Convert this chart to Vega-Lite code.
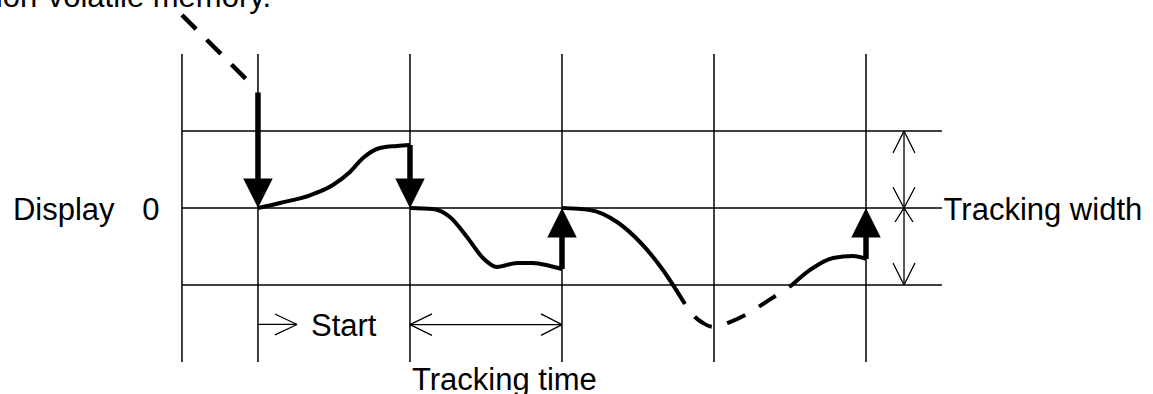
{
  "$schema": "https://vega.github.io/schema/vega-lite/v6.json",
  "width": 1153,
  "height": 394,
  "autosize": "none",
  "padding": 0,
  "background": "white",
  "config": {"view": {"stroke": null}, "font": "Liberation Sans"},
  "datasets": {
    "grid": [
      {"x": -0.5, "y": -2, "x2": -0.5, "y2": 2},
      {"x": 0, "y": -2, "x2": 0, "y2": 2},
      {"x": 1, "y": -2, "x2": 1, "y2": 2},
      {"x": 2, "y": -2, "x2": 2, "y2": 2},
      {"x": 3, "y": -2, "x2": 3, "y2": 2},
      {"x": 4, "y": -2, "x2": 4, "y2": 2},
      {"x": -0.5, "y": 1, "x2": 4.5, "y2": 1},
      {"x": -0.5, "y": 0, "x2": 4.5, "y2": 0},
      {"x": -0.5, "y": -1, "x2": 4.5, "y2": -1}
    ],
    "thin": [
      {"x": 4.25, "y": 1, "x2": 4.25, "y2": -1},
      {"x": 4.178, "y": 0.714, "x2": 4.25, "y2": 1},
      {"x": 4.322, "y": 0.714, "x2": 4.25, "y2": 1},
      {"x": 4.178, "y": 0.27, "x2": 4.25, "y2": 0},
      {"x": 4.322, "y": 0.27, "x2": 4.25, "y2": 0},
      {"x": 4.191, "y": -0.182, "x2": 4.25, "y2": 0},
      {"x": 4.309, "y": -0.182, "x2": 4.25, "y2": 0},
      {"x": 4.178, "y": -0.714, "x2": 4.25, "y2": -1},
      {"x": 4.322, "y": -0.714, "x2": 4.25, "y2": -1},
      {"x": 0, "y": -1.513, "x2": 0.257, "y2": -1.513},
      {"x": 0.112, "y": -1.377, "x2": 0.257, "y2": -1.513},
      {"x": 0.112, "y": -1.649, "x2": 0.257, "y2": -1.513},
      {"x": 1, "y": -1.515, "x2": 2, "y2": -1.515},
      {"x": 1.145, "y": -1.375, "x2": 1, "y2": -1.515},
      {"x": 1.145, "y": -1.655, "x2": 1, "y2": -1.515},
      {"x": 1.862, "y": -1.375, "x2": 2, "y2": -1.515},
      {"x": 1.862, "y": -1.655, "x2": 2, "y2": -1.515}
    ],
    "shafts": [
      {"x": 0, "y": 1.5, "x2": 0, "y2": 0.3},
      {"x": 1, "y": 0.818, "x2": 1, "y2": 0.3},
      {"x": 2, "y": -0.792, "x2": 2, "y2": -0.3},
      {"x": 4, "y": -0.662, "x2": 4, "y2": -0.3}
    ],
    "heads": [
      {"x": 0, "y": 0, "dir": "down"},
      {"x": 1, "y": 0, "dir": "down"},
      {"x": 2, "y": 0, "dir": "up"},
      {"x": 4, "y": 0, "dir": "up"}
    ],
    "curve": [
      {"series": "c1", "style": "solid", "x": 0, "y": 0},
      {"series": "c1", "style": "solid", "x": 0.145, "y": 0.065},
      {"series": "c1", "style": "solid", "x": 0.342, "y": 0.165},
      {"series": "c1", "style": "solid", "x": 0.493, "y": 0.299},
      {"series": "c1", "style": "solid", "x": 0.605, "y": 0.468},
      {"series": "c1", "style": "solid", "x": 0.691, "y": 0.649},
      {"series": "c1", "style": "solid", "x": 0.803, "y": 0.779},
      {"series": "c1", "style": "solid", "x": 0.914, "y": 0.805},
      {"series": "c1", "style": "solid", "x": 1.0, "y": 0.818},
      {"series": "c2", "style": "solid", "x": 1.0, "y": 0},
      {"series": "c2", "style": "solid", "x": 1.151, "y": -0.013},
      {"series": "c2", "style": "solid", "x": 1.263, "y": -0.117},
      {"series": "c2", "style": "solid", "x": 1.375, "y": -0.377},
      {"series": "c2", "style": "solid", "x": 1.48, "y": -0.649},
      {"series": "c2", "style": "solid", "x": 1.572, "y": -0.766},
      {"series": "c2", "style": "solid", "x": 1.704, "y": -0.714},
      {"series": "c2", "style": "solid", "x": 1.809, "y": -0.714},
      {"series": "c2", "style": "solid", "x": 1.921, "y": -0.753},
      {"series": "c2", "style": "solid", "x": 2.0, "y": -0.792},
      {"series": "c3", "style": "solid", "x": 2.0, "y": 0},
      {"series": "c3", "style": "solid", "x": 2.184, "y": -0.026},
      {"series": "c3", "style": "solid", "x": 2.362, "y": -0.182},
      {"series": "c3", "style": "solid", "x": 2.513, "y": -0.442},
      {"series": "c3", "style": "solid", "x": 2.664, "y": -0.805},
      {"series": "c3", "style": "solid", "x": 2.809, "y": -1.247},
      {"series": "c4", "style": "dashed", "x": 2.809, "y": -1.247},
      {"series": "c4", "style": "dashed", "x": 2.875, "y": -1.416},
      {"series": "c4", "style": "dashed", "x": 2.928, "y": -1.494},
      {"series": "c4", "style": "dashed", "x": 2.993, "y": -1.545},
      {"series": "c4", "style": "dashed", "x": 3.105, "y": -1.481},
      {"series": "c4", "style": "dashed", "x": 3.23, "y": -1.364},
      {"series": "c4", "style": "dashed", "x": 3.322, "y": -1.247},
      {"series": "c4", "style": "dashed", "x": 3.434, "y": -1.104},
      {"series": "c4", "style": "dashed", "x": 3.513, "y": -1.0},
      {"series": "c5", "style": "solid", "x": 3.513, "y": -1.0},
      {"series": "c5", "style": "solid", "x": 3.632, "y": -0.805},
      {"series": "c5", "style": "solid", "x": 3.783, "y": -0.649},
      {"series": "c5", "style": "solid", "x": 3.914, "y": -0.623},
      {"series": "c5", "style": "solid", "x": 4.0, "y": -0.662},
      {"series": "lead", "style": "lead", "x": -0.5, "y": 2.506},
      {"series": "lead", "style": "lead", "x": -0.059, "y": 1.636}
    ],
    "labels": [
      {"x": -1.612, "y": -0.156, "text": "Display", "align": "left"},
      {"x": -0.704, "y": -0.156, "text": "0", "align": "center"},
      {"x": 4.51, "y": -0.156, "text": "Tracking width", "align": "left"},
      {"x": 1.013, "y": -2.364, "text": "Tracking time", "align": "left"},
      {"x": 0.349, "y": -1.662, "text": "Start", "align": "left"},
      {"x": 0.086, "y": 2.61, "text": "non-volatile memory.", "align": "right"}
    ]
  },
  "layer": [
    {
      "data": {"name": "grid"},
      "mark": {"type": "rule", "color": "black", "strokeWidth": 1.5},
      "encoding": {
        "x": {"field": "x", "type": "quantitative", "scale": {"domain": [-1.697, 5.888], "zero": false, "nice": false}, "axis": null},
        "y": {"field": "y", "type": "quantitative", "scale": {"domain": [-2.416, 2.701], "zero": false, "nice": false}, "axis": null},
        "x2": {"field": "x2"},
        "y2": {"field": "y2"}
      }
    },
    {
      "data": {"name": "thin"},
      "mark": {"type": "rule", "color": "black", "strokeWidth": 1.3},
      "encoding": {
        "x": {"field": "x", "type": "quantitative"},
        "y": {"field": "y", "type": "quantitative"},
        "x2": {"field": "x2"},
        "y2": {"field": "y2"}
      }
    },
    {
      "data": {"name": "shafts"},
      "mark": {"type": "rule", "color": "black", "strokeWidth": 5.5},
      "encoding": {
        "x": {"field": "x", "type": "quantitative"},
        "y": {"field": "y", "type": "quantitative"},
        "x2": {"field": "x2"},
        "y2": {"field": "y2"}
      }
    },
    {
      "data": {"name": "curve"},
      "transform": [{"filter": "datum.style === 'solid'"}],
      "mark": {"type": "line", "color": "black", "strokeWidth": 4, "interpolate": "monotone"},
      "encoding": {
        "x": {"field": "x", "type": "quantitative"},
        "y": {"field": "y", "type": "quantitative"},
        "detail": {"field": "series"}
      }
    },
    {
      "data": {"name": "curve"},
      "transform": [{"filter": "datum.style === 'dashed'"}],
      "mark": {"type": "line", "color": "black", "strokeWidth": 4, "interpolate": "monotone", "strokeDash": [20, 16], "strokeDashOffset": 20},
      "encoding": {
        "x": {"field": "x", "type": "quantitative"},
        "y": {"field": "y", "type": "quantitative"},
        "detail": {"field": "series"}
      }
    },
    {
      "data": {"name": "curve"},
      "transform": [{"filter": "datum.style === 'lead'"}],
      "mark": {"type": "line", "color": "black", "strokeWidth": 4.5, "strokeDash": [20, 15]},
      "encoding": {
        "x": {"field": "x", "type": "quantitative"},
        "y": {"field": "y", "type": "quantitative"},
        "detail": {"field": "series"}
      }
    },
    {
      "data": {"name": "heads"},
      "mark": {"type": "point", "filled": true, "color": "black", "opacity": 1, "size": 870, "strokeWidth": 0},
      "encoding": {
        "x": {"field": "x", "type": "quantitative"},
        "y": {"field": "y", "type": "quantitative"},
        "shape": {"field": "dir", "type": "nominal", "scale": {"domain": ["down", "up"], "range": ["M-1,-2L1,-2L0,0Z", "M-1,2L1,2L0,0Z"]}, "legend": null}
      }
    },
    {
      "data": {"name": "labels"},
      "transform": [{"filter": "datum.align === 'left'"}],
      "mark": {"type": "text", "align": "left", "baseline": "alphabetic", "fontSize": 31, "color": "black"},
      "encoding": {
        "x": {"field": "x", "type": "quantitative"},
        "y": {"field": "y", "type": "quantitative"},
        "text": {"field": "text"}
      }
    },
    {
      "data": {"name": "labels"},
      "transform": [{"filter": "datum.align === 'center'"}],
      "mark": {"type": "text", "align": "center", "baseline": "alphabetic", "fontSize": 31, "color": "black"},
      "encoding": {
        "x": {"field": "x", "type": "quantitative"},
        "y": {"field": "y", "type": "quantitative"},
        "text": {"field": "text"}
      }
    },
    {
      "data": {"name": "labels"},
      "transform": [{"filter": "datum.align === 'right'"}],
      "mark": {"type": "text", "align": "right", "baseline": "alphabetic", "fontSize": 31, "color": "black"},
      "encoding": {
        "x": {"field": "x", "type": "quantitative"},
        "y": {"field": "y", "type": "quantitative"},
        "text": {"field": "text"}
      }
    }
  ]
}
